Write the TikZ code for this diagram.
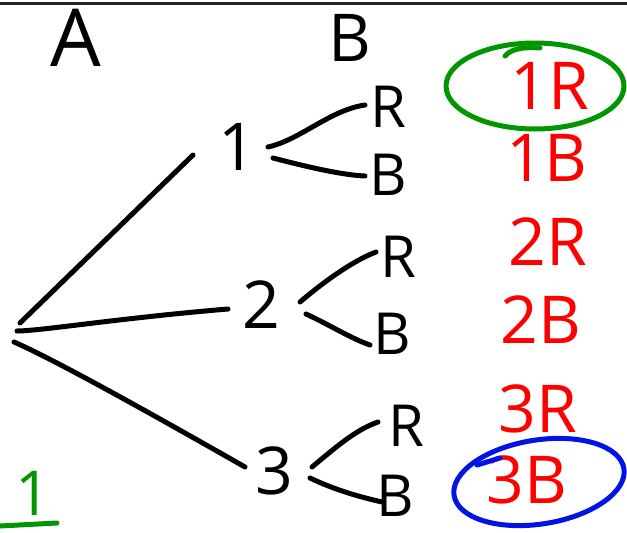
\documentclass[tikz,border=0pt]{standalone}
\usepackage{fontspec}
\setmainfont{Open Sans}
\definecolor{inkred}{RGB}{255,0,0}
\definecolor{inkgreen}{RGB}{0,150,0}
\definecolor{inkblue}{RGB}{0,20,230}
\begin{document}
\begin{tikzpicture}[x=1pt,y=-1pt,
  pen/.style={line width=5pt, line cap=round, line join=round},
  hand/.style={inner sep=0pt, anchor=center, font=\fontsize{#1}{#1}\selectfont},
  outcome/.style={hand=66, text=inkred},
  leaf/.style={hand=58},
  stage/.style={hand=66}]
\useasboundingbox (0,0) rectangle (627,533);

% rule along the top edge
\coordinate (topL) at (0,3.5);
\coordinate (topR) at (627,3.5);
\draw[line width=3pt, black!85] (topL) -- (topR);

% column headings
\node[hand=80] (hA) at (76,38) {A};
\node[hand=66] (hB) at (350,38) {B};

% first-stage outcomes
\node[stage] (d1) at (237,147) {1};
\node[stage] (d2) at (261,305) {2};
\node[stage] (d3) at (274,471) {3};

% second-stage outcomes
\node[leaf] (r1) at (388,107) {R};
\node[leaf] (b1) at (388,175) {B};
\node[leaf] (r2) at (398,257) {R};
\node[leaf] (b2) at (392,334) {B};
\node[leaf] (r3) at (406,426) {R};
\node[leaf] (b3) at (395,496) {B};

% listed sample points
\node[outcome] (o1r) at (550,86) {1R};
\node[outcome] (o1b) at (547,158) {1B};
\node[outcome] (o2r) at (548,242) {2R};
\node[outcome] (o2b) at (541,320) {2B};
\node[outcome] (o3r) at (538,409) {3R};
\node[outcome] (o3b) at (527,480) {3B};

% branch end points
\coordinate (root1) at (20,323);
\coordinate (root2) at (17,331);
\coordinate (root3) at (14,342);
\coordinate (d1in) at (193,155);
\coordinate (d2in) at (228,309);
\coordinate (d3in) at (245,467);
\coordinate (d1up) at (268,147);
\coordinate (d1dn) at (273,158);
\coordinate (d2up) at (300,302);
\coordinate (d2dn) at (306,314);
\coordinate (d3up) at (312,467);
\coordinate (d3dn) at (310,478);
\coordinate (r1in) at (365,105);
\coordinate (b1in) at (365,176);
\coordinate (r2in) at (376,252);
\coordinate (b2in) at (370,345);
\coordinate (r3in) at (378,422);
\coordinate (b3in) at (382,502);

% first stage
\draw[pen] (root1) -- (d1in);
\draw[pen] (root2) .. controls (40,331) and (120,318) .. (d2in);
\draw[pen] (root3) .. controls (60,362) and (180,430) .. (d3in);

% second stage
\draw[pen] (d1up) .. controls (300,140) and (330,110) .. (r1in);
\draw[pen] (d1dn) .. controls (300,165) and (340,175) .. (b1in);
\draw[pen] (d2up) .. controls (320,285) and (350,262) .. (r2in);
\draw[pen] (d2dn) .. controls (330,325) and (350,338) .. (b2in);
\draw[pen] (d3up) .. controls (335,448) and (355,430) .. (r3in);
\draw[pen] (d3dn) .. controls (335,490) and (360,497) .. (b3in);

% rings round the chosen outcomes
\coordinate (g1) at (535,86);
\draw[pen, inkgreen] (g1) ellipse [x radius=89, y radius=43];
\coordinate (g1a) at (505,56);
\coordinate (g1b) at (540,48);
\draw[pen, inkgreen] (g1a) .. controls (512,48) and (525,47) .. (g1b);

\coordinate (b1c) at (539,482);
\draw[pen, inkblue, rotate around={9:(b1c)}] (b1c) ellipse [x radius=86, y radius=42];
\coordinate (bl1) at (477,465);
\coordinate (bl2) at (500,458);
\draw[pen, inkblue] (bl1) -- (bl2);

% note in the corner
\node[hand=62, text=inkgreen] (n1) at (33,493) {1};
\coordinate (ul1) at (0,526);
\coordinate (ul2) at (57,523);
\draw[pen, inkgreen] (ul1) -- (ul2);
\end{tikzpicture}
\end{document}
